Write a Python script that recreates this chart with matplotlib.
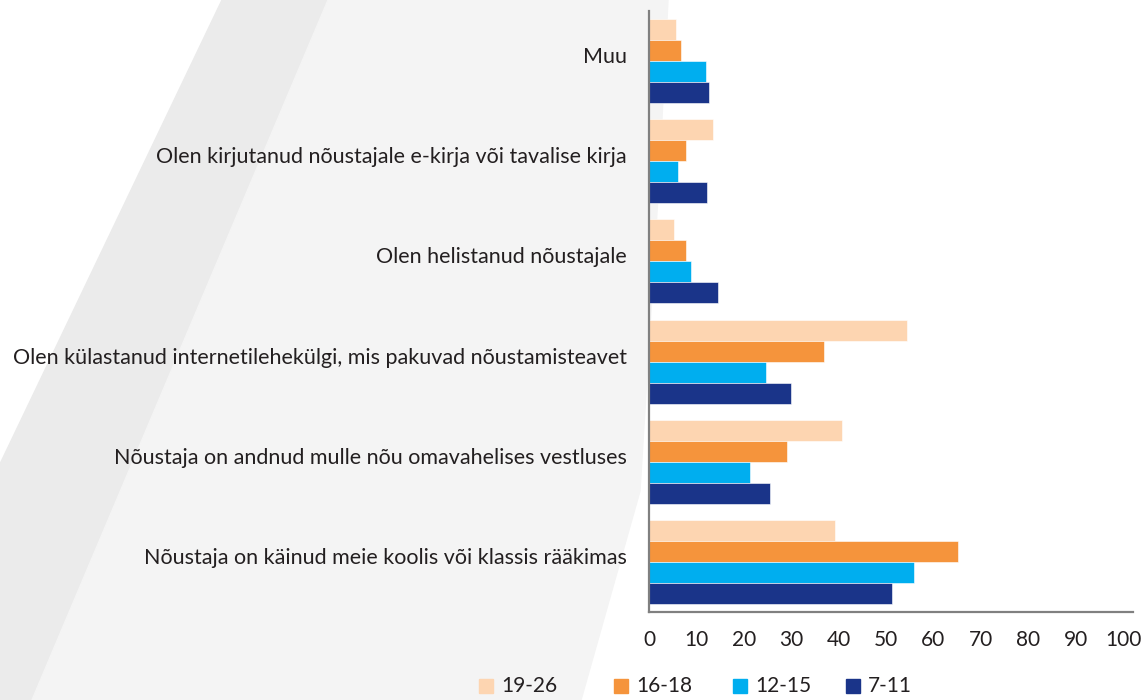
import matplotlib.pyplot as plt
from matplotlib.patches import Polygon, Rectangle
import numpy as np

plt.rcParams['font.family'] = ['Lato', 'DejaVu Sans']

# andmed (ülevalt alla)
kategooriad = [
    "Muu",
    "Olen kirjutanud nõustajale e-kirja või tavalise kirja",
    "Olen helistanud nõustajale",
    "Olen külastanud internetilehekülgi, mis pakuvad nõustamisteavet",
    "Nõustaja on andnud mulle nõu omavahelises vestluses",
    "Nõustaja on käinud meie koolis või klassis rääkimas",
]
vanus_19_26 = [5.6, 13.6, 5.3, 54.5, 40.8, 39.2]
vanus_16_18 = [6.7, 7.8, 7.9, 37.0, 29.2, 65.2]
vanus_12_15 = [12.0, 6.1, 8.9, 24.7, 21.3, 56.0]
vanus_7_11 = [12.6, 12.3, 14.6, 29.9, 25.5, 51.3]
seeriad = ["19-26", "16-18", "12-15", "7-11"]
varvid = ["#fdd5b1", "#f5943c", "#00aeef", "#1a3489"]
x_ticks = [0, 10, 20, 30, 40, 50, 60, 70, 80, 90, 100]

W, H = 1144, 700
fig = plt.figure(figsize=(W / 100, H / 100), dpi=100)

# taustakujundid
def px(pts):
    return [(x / W, 1 - y / H) for x, y in pts]

fig.patches.append(Polygon(px([(222, 0), (328, 0), (32, 700), (0, 700), (0, 464)]),
                           closed=True, transform=fig.transFigure, color="#ebebeb", zorder=-10))
fig.patches.append(Polygon(px([(328, 0), (668, 0), (658, 196), (640, 491), (581, 700), (32, 700)]),
                           closed=True, transform=fig.transFigure, color="#f4f4f4", zorder=-10))

ax = fig.add_axes([649 / W, 1 - 612 / H, (1133 - 649) / W, (612 - 11) / H])
ax.set_facecolor("none")

n = len(kategooriad)
y = np.arange(n)[::-1]
h = 0.21
andmed = [vanus_19_26, vanus_16_18, vanus_12_15, vanus_7_11]
for i, (vals, nimi, c) in enumerate(zip(andmed, seeriad, varvid)):
    ax.barh(y + (1.5 - i) * h, vals, height=h, color=c, label=nimi,
            edgecolor="white", linewidth=0.4)

ax.set_xlim(0, 102.1)
ax.set_ylim(-0.5, n - 0.5)
ax.set_yticks(y + 0.06)
ax.set_yticklabels(kategooriad, fontsize=15.5, color="#231f20")
ax.set_xticks(x_ticks)
ax.set_xticklabels([str(t) for t in x_ticks], fontsize=15, color="#231f20")
ax.tick_params(axis="both", length=0)
ax.tick_params(axis="y", pad=16)
ax.tick_params(axis="x", pad=13)

for s in ["top", "right"]:
    ax.spines[s].set_visible(False)
for s in ["left", "bottom"]:
    ax.spines[s].set_color("#808080")
    ax.spines[s].set_linewidth(1.6)

# legend (käsitsi paigutatud)
leg_x = [479, 614, 733, 846]
for lx, nimi, c in zip(leg_x, seeriad, varvid):
    fig.patches.append(Rectangle(((lx) / W, 1 - 693 / H), 14 / W, 14 / H,
                                 transform=fig.transFigure, color=c))
    fig.text((lx + 22) / W, 1 - 686 / H, nimi, fontsize=15, color="#231f20",
             va="center", ha="left")

fig.savefig("out.png", dpi=100)
